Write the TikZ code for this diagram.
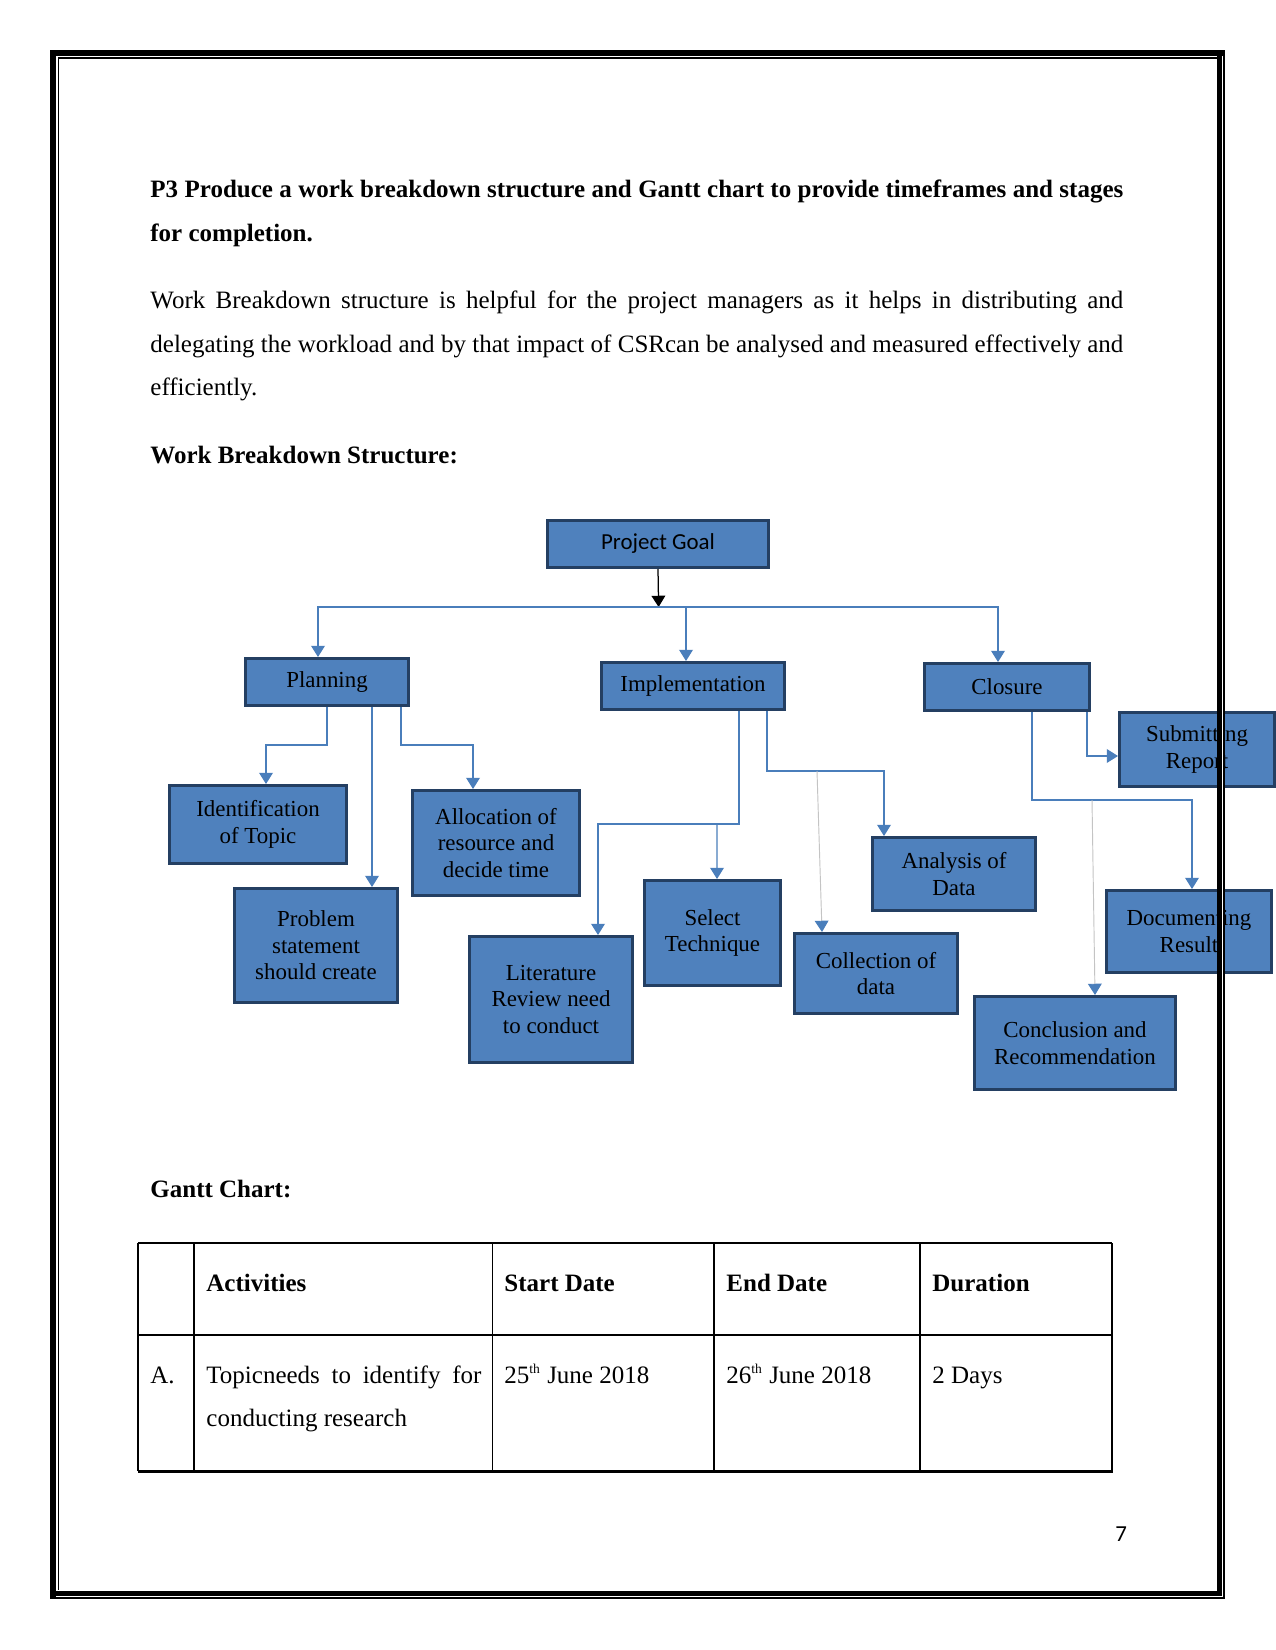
\documentclass[tikz,border=0pt]{standalone}
\usepackage{fontspec}
\setmainfont{Liberation Serif}
\newfontfamily\calibrifont{Carlito}
\usetikzlibrary{arrows.meta,calc}
\definecolor{boxfill}{HTML}{4F81BD}
\definecolor{boxline}{HTML}{243F62}
\definecolor{connblue}{HTML}{4A7EBB}
\definecolor{lightconn}{HTML}{C4C4C4}
\begin{document}
\begin{tikzpicture}[x=0.48pt,y=-0.48pt,
  wbs/.style 2 args={draw=boxline, fill=boxfill, line width=1.6pt, inner sep=0pt, align=center,
     font=\fontsize{11}{12.65}\selectfont,
     minimum width=#1*0.48pt-1.6pt, minimum height=#2*0.48pt-1.6pt},
  conn/.style={draw=connblue, line width=0.6pt, -{Triangle[width=6.6pt,length=5.4pt]}},
  grayconn/.style={draw=lightconn, line width=0.45pt, -{Triangle[width=6.6pt,length=5.4pt,color=connblue]}},
  blackconn/.style={draw=black, line width=0.6pt, -{Triangle[width=6.6pt,length=5.4pt]}},
  txt/.style={anchor=base west, inner sep=0pt, font=\fontsize{12}{20.7}\selectfont},
  btxt/.style={txt, font=\fontsize{12}{20.7}\selectfont\bfseries},
  tline/.style={draw=black, line width=0.5pt}
]
\useasboundingbox (0,0) rectangle (1275,1650);
\fill[white] (0,0) rectangle (1275,1650);

% ---------- text ----------
\node[txt] (title) at (150,197.7) {\parbox[t]{467pt}{\fontsize{12}{20.8}\selectfont\bfseries
P3 Produce a work breakdown structure and Gantt chart to provide timeframes and stages\linebreak for completion.}};
\node[txt] (para) at (150,309) {\parbox[t]{467pt}{\fontsize{12}{20.65}\selectfont
Work Breakdown structure is helpful for the project managers as it helps in distributing and\linebreak delegating the workload and by that impact of CSRcan be analysed and measured effectively and\linebreak efficiently.}};
\node[btxt] (wbshead) at (150,463) {Work Breakdown Structure:};
\node[btxt] (gantthead) at (150,1197) {Gantt Chart:};

% ---------- WBS boxes ----------
\node[wbs={224}{50}, font=\calibrifont\fontsize{11}{13}\selectfont] (goal) at (658,544) {Project Goal};
\node[wbs={166}{50}] (pl)  at (327,682) {Planning};
\node[wbs={186}{50}] (imp) at (693,686) {Implementation};
\node[wbs={168}{50}] (clo) at (1007,687) {Closure};
\node[wbs={158}{77}] (sub) at (1197,749.5) {Submitting\\Report};
\node[wbs={180}{81}] (idt) at (258,824.5) {Identification\\of Topic};
\node[wbs={166}{117}] (prb) at (316,945.5) {Problem\\statement\\should create};
\node[wbs={170}{108}] (alc) at (496,843) {Allocation of\\resource and\\decide time};
\node[wbs={166}{129}] (lit) at (551,999.5) {Literature\\Review need\\to conduct};
\node[wbs={139}{108}] (sel) at (712.5,933) {Select\\Technique};
\node[wbs={166}{83}] (col) at (876,973.5) {Collection of\\data};
\node[wbs={166}{76}] (ana) at (954,874) {Analysis of\\Data};
\node[wbs={168}{85}] (doc) at (1189,931.5) {Documenting\\Result};
\node[wbs={204}{96}] (con) at (1075,1043) {Conclusion and\\Recommendation};

% ---------- connectors ----------
\coordinate (hub) at (658.6,607);
\draw[blackconn] (goal.south) -- (hub);
\draw[conn] (hub) -| ($(pl.north)+(-9,0)$);
\draw[conn] (hub) -| ($(imp.north)+(-7,0)$);
\draw[conn] (hub) -| ($(clo.north)+(-9,0)$);

\draw[conn] (pl.south) -- ++(0,38) -| ($(idt.north)+(8,0)$);
\draw[conn] ($(pl.south)+(45,0)$) -- ($(prb.north)+(56,0)$);
\draw[conn] ($(pl.south)+(74,0)$) -- ++(0,38) -| ($(alc.north)+(-23,0)$);

\draw[conn] ($(imp.south)+(46,0)$) -- ++(0,113) -| ($(lit.north)+(47,0)$);
\coordinate (j1) at (717,824);
\draw[conn] (j1) -- ($(sel.north)+(4.5,0)$);
\draw[conn] ($(imp.south)+(74,0)$) -- ++(0,60) -| ($(ana.north)+(-70,0)$);
\coordinate (j2) at (817,771);
\draw[grayconn] (j2) -- ($(col.north)+(-54,0)$);

\draw[conn] ($(clo.south)+(80,0)$) |- ($(sub.west)+(0,6.5)$);
\draw[conn] ($(clo.south)+(25,0)$) -- ++(0,88) -| ($(doc.north)+(3,0)$);
\coordinate (j3) at (1092,800);
\draw[grayconn] (j3) -- ($(con.north)+(20,0)$);

% ---------- table ----------
\draw[tline] (138,1243) -- (1112,1243);
\draw[tline] (138,1335) -- (1112,1335);
\draw[draw=black, line width=1pt] (137.5,1471.5) -- (1112.5,1471.5);
\foreach \xx in {138,194,492.5,714,920,1112} {\draw[tline] (\xx,1243) -- (\xx,1471);}
\node[btxt] (h1) at (206,1291) {Activities};
\node[btxt] (h2) at (504,1291) {Start Date};
\node[btxt] (h3) at (726,1291) {End Date};
\node[btxt] (h4) at (932,1291) {Duration};
\node[txt] (r0) at (150,1383) {A.};
\node[txt] (r1) at (206,1383) {\parbox[t]{132pt}{\fontsize{12}{21}\selectfont Topicneeds to identify for\linebreak conducting research}};
\node[txt] (r2) at (504,1383) {25\textsuperscript{\fontsize{6.5}{7}\selectfont th} June 2018};
\node[txt] (r3) at (726,1383) {26\textsuperscript{\fontsize{6.5}{7}\selectfont th} June 2018};
\node[txt] (r4) at (932,1383) {2 Days};

\node[anchor=base west, inner sep=0pt, font=\calibrifont\fontsize{11}{13}\selectfont] (pg) at (1115,1541) {7};

% ---------- page border ----------
\fill[black] (50,50) rectangle (55.5,1597);
\fill[black] (50,50) rectangle (1224.5,56);
\fill[black] (57.5,57.5) rectangle (58.7,1589.5);
\fill[black] (57.5,57.5) rectangle (1216.5,58.7);
\fill[white] (1216.5,56) rectangle (1224.5,1598.5);
\fill[black] (1216.5,56) rectangle (1221.5,1596);
\fill[black] (1223,50) rectangle (1224.6,1598.6);
\fill[black] (55,1591) rectangle (1221.5,1596);
\fill[black] (50,1597.2) rectangle (1224.6,1598.6);
\end{tikzpicture}
\end{document}
